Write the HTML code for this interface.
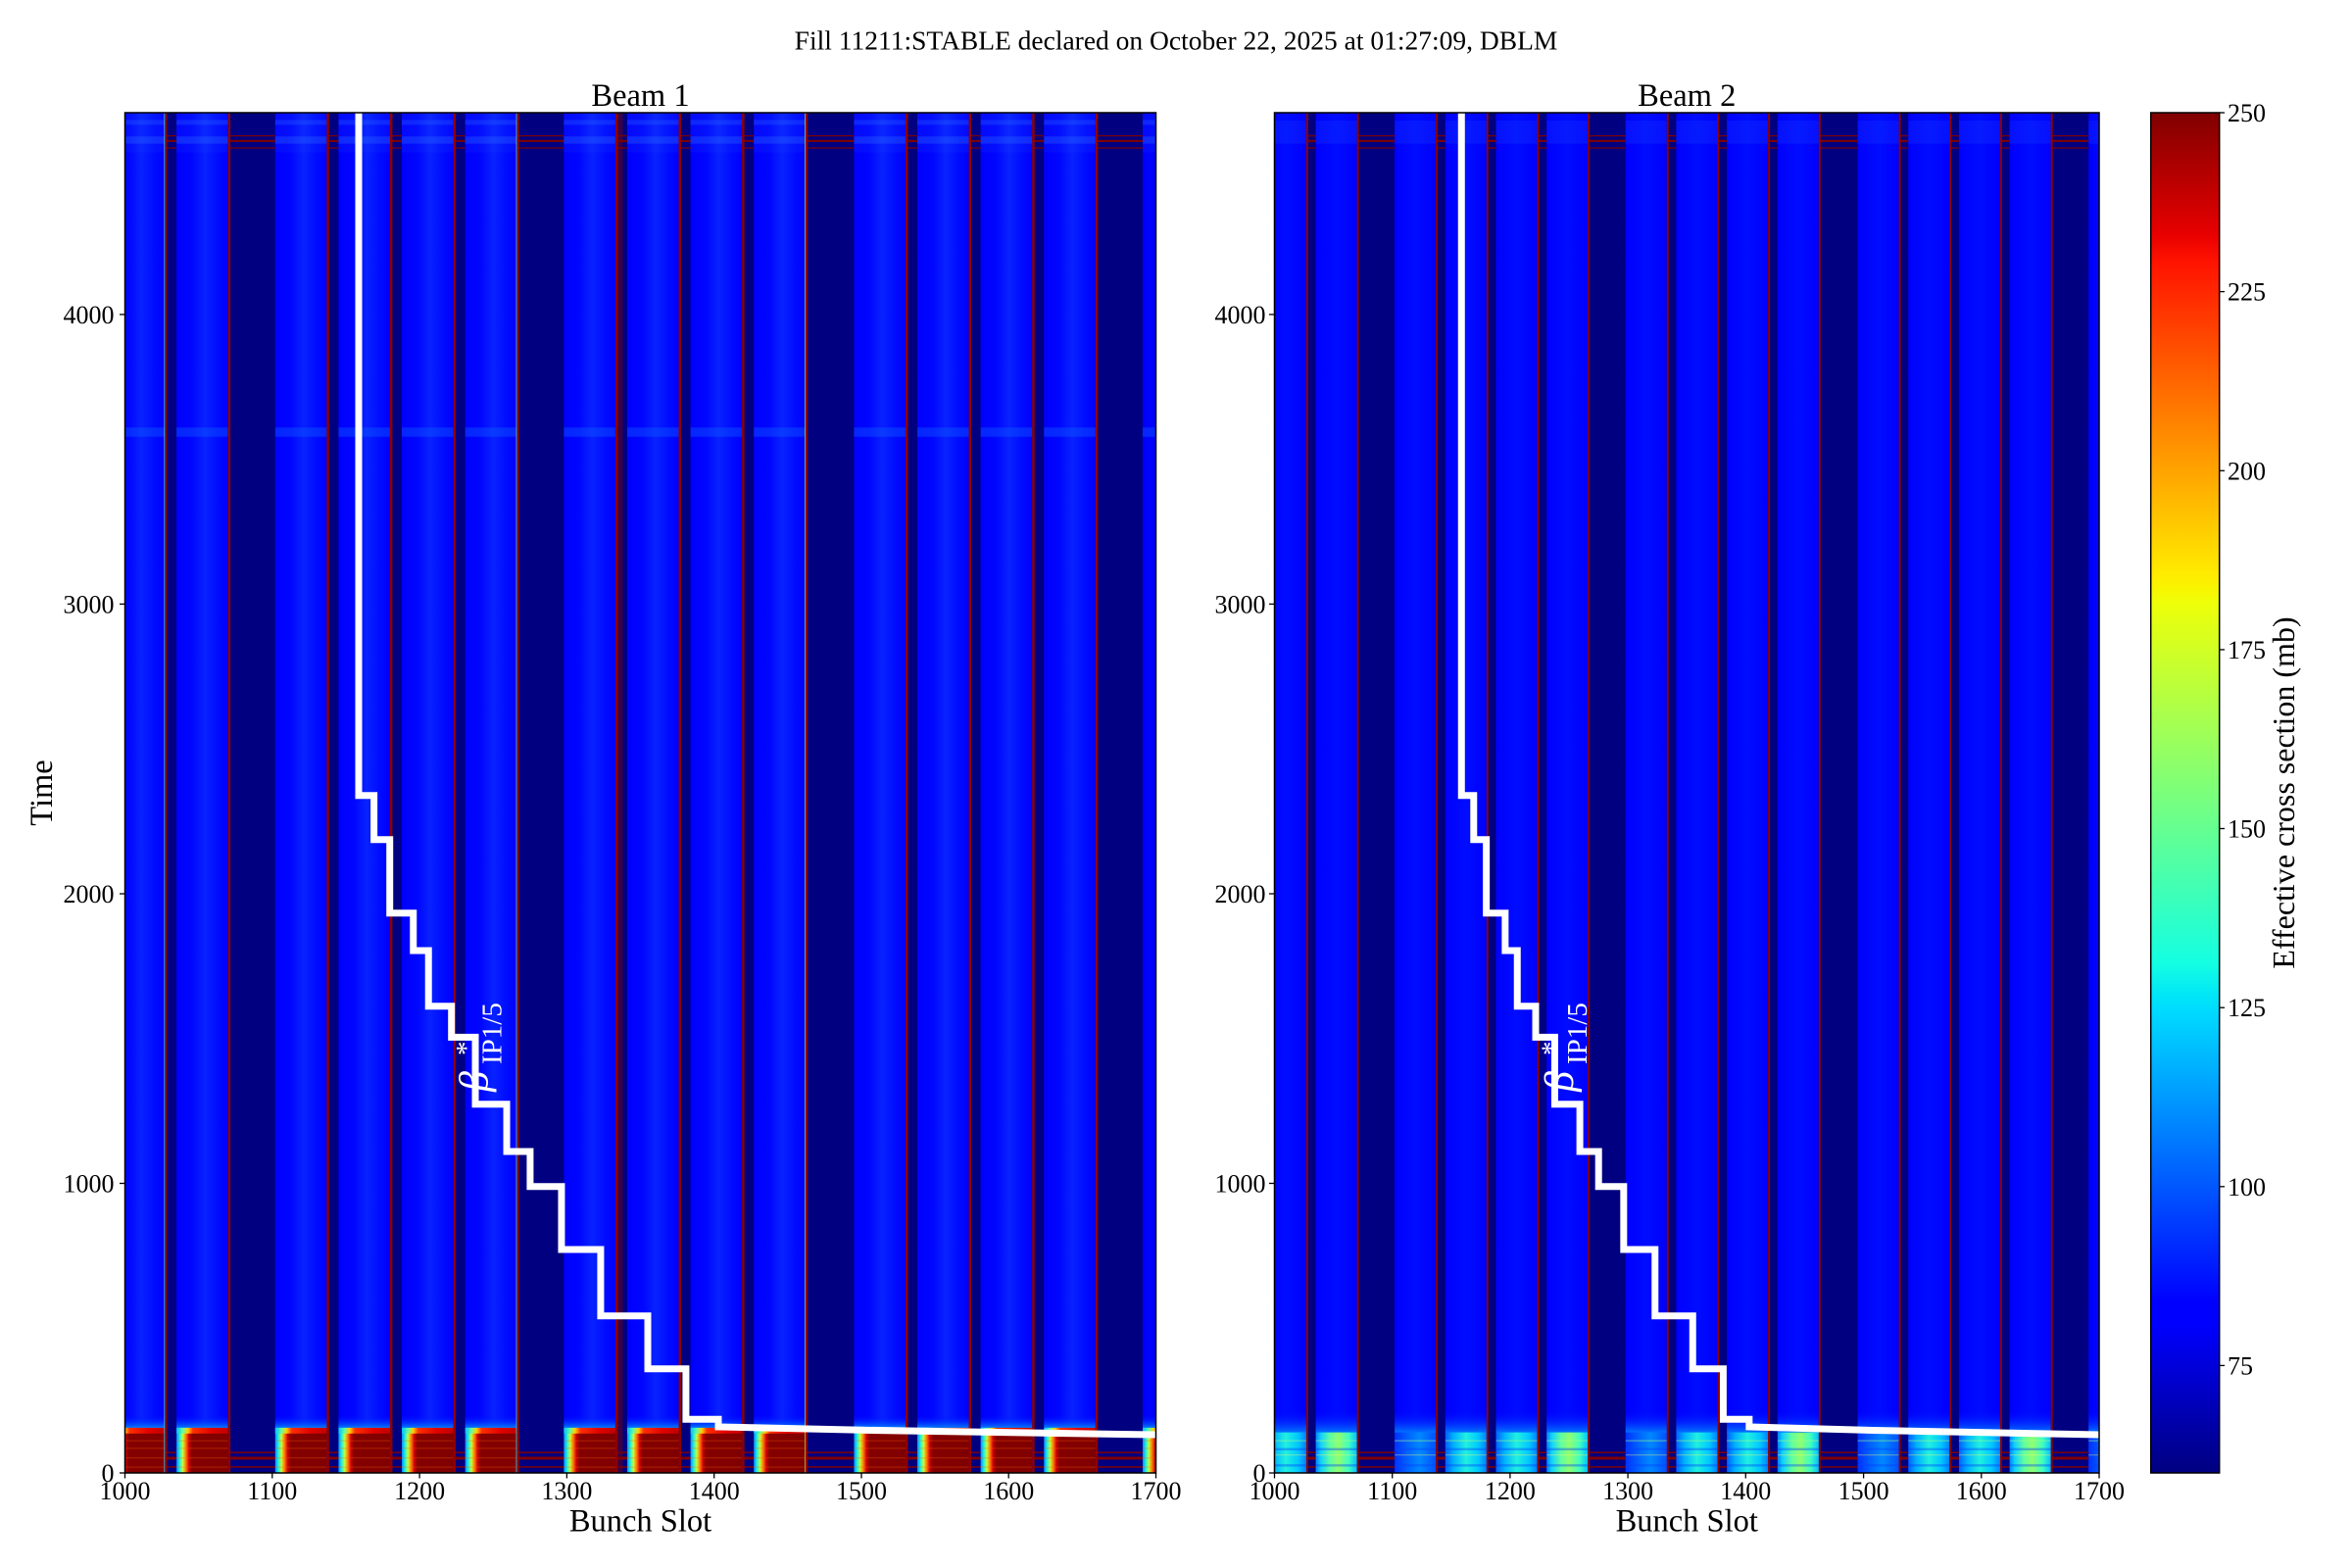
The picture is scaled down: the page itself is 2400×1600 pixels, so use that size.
<!DOCTYPE html>
<html><head><meta charset="utf-8">
<style>
html,body{margin:0;padding:0;background:#fff}
svg{display:block}
text{font-family:"Liberation Serif","DejaVu Serif",serif;fill:#000}
</style></head>
<body>
<svg xmlns="http://www.w3.org/2000/svg" xmlns:xlink="http://www.w3.org/1999/xlink" width="2400" height="1600" viewBox="0 0 2400 1600">
<rect width="2400" height="1600" fill="#fff"/>
<defs>
  <linearGradient id="tg1" x1="0" y1="0" x2="1" y2="0">
    <stop offset="0" stop-color="#0000fc"/><stop offset="0.3" stop-color="#0006ff"/><stop offset="0.55" stop-color="#0822ff"/><stop offset="0.8" stop-color="#000cff"/><stop offset="1" stop-color="#0000fc"/>
  </linearGradient>
  <linearGradient id="tg2" x1="0" y1="0" x2="1" y2="0">
    <stop offset="0" stop-color="#0000fc"/><stop offset="0.5" stop-color="#000cff"/><stop offset="1" stop-color="#0000fc"/>
  </linearGradient>
  <linearGradient id="haze1" x1="0" y1="0" x2="0" y2="1">
    <stop offset="0" stop-color="#0008ff" stop-opacity="0"/><stop offset="1" stop-color="#0090ff"/>
  </linearGradient>
  <linearGradient id="haze2" x1="0" y1="0" x2="0" y2="1">
    <stop offset="0" stop-color="#0008ff" stop-opacity="0"/><stop offset="1" stop-color="#0078ff"/>
  </linearGradient>
  <linearGradient id="blob1" x1="0" y1="0" x2="1" y2="0">
    <stop offset="0" stop-color="#0090ff"/><stop offset="0.06" stop-color="#20f0e0"/><stop offset="0.12" stop-color="#c0ff40"/><stop offset="0.18" stop-color="#ff8000"/><stop offset="0.24" stop-color="#d00000"/><stop offset="0.3" stop-color="#840000"/><stop offset="1" stop-color="#800000"/>
  </linearGradient>
  <linearGradient id="btop1" x1="0" y1="0" x2="1" y2="0">
    <stop offset="0" stop-color="#00c0ff"/><stop offset="0.12" stop-color="#60ffa0"/><stop offset="0.22" stop-color="#ffd000"/><stop offset="0.32" stop-color="#ff3000"/><stop offset="0.7" stop-color="#e00000"/><stop offset="1" stop-color="#c00000"/>
  </linearGradient>
  <linearGradient id="bb" x1="0" y1="0" x2="1" y2="0">
    <stop offset="0" stop-color="#0080ff"/><stop offset="0.12" stop-color="#10d0ff"/><stop offset="0.35" stop-color="#60ffa0"/><stop offset="0.55" stop-color="#90ff70"/><stop offset="0.8" stop-color="#40ffc0"/><stop offset="1" stop-color="#00c0ff"/>
  </linearGradient>
  <linearGradient id="bm" x1="0" y1="0" x2="1" y2="0">
    <stop offset="0" stop-color="#0060ff"/><stop offset="0.2" stop-color="#00b0ff"/><stop offset="0.5" stop-color="#20f0e0"/><stop offset="0.8" stop-color="#00c8ff"/><stop offset="1" stop-color="#0080ff"/>
  </linearGradient>
  <linearGradient id="bd" x1="0" y1="0" x2="1" y2="0">
    <stop offset="0" stop-color="#0030ff"/><stop offset="0.3" stop-color="#0060ff"/><stop offset="0.6" stop-color="#0088ff"/><stop offset="1" stop-color="#0050ff"/>
  </linearGradient>
  <linearGradient id="jet" x1="0" y1="1" x2="0" y2="0">
    <stop offset="0" stop-color="#000080"/><stop offset="0.11" stop-color="#0000ff"/><stop offset="0.125" stop-color="#0000ff"/><stop offset="0.34" stop-color="#00dbff"/><stop offset="0.35" stop-color="#00e5f8"/><stop offset="0.375" stop-color="#14ffe2"/><stop offset="0.5" stop-color="#7bff7b"/><stop offset="0.64" stop-color="#eeff08"/><stop offset="0.65" stop-color="#f8f500"/><stop offset="0.66" stop-color="#ffec00"/><stop offset="0.75" stop-color="#ff9700"/><stop offset="0.89" stop-color="#ff1300"/><stop offset="0.91" stop-color="#e80000"/><stop offset="1" stop-color="#800000"/>
  </linearGradient>

  <clipPath id="cpTr" clipPathUnits="userSpaceOnUse">
    <rect x="992" y="-4697" width="35" height="4697"/><rect x="1035" y="-4697" width="35" height="4697"/><rect x="1102" y="-4697" width="35" height="4697"/><rect x="1145" y="-4697" width="35" height="4697"/><rect x="1188" y="-4697" width="35" height="4697"/><rect x="1231" y="-4697" width="35" height="4697"/><rect x="1298" y="-4697" width="35" height="4697"/><rect x="1341" y="-4697" width="35" height="4697"/><rect x="1384" y="-4697" width="35" height="4697"/><rect x="1427" y="-4697" width="35" height="4697"/><rect x="1495" y="-4697" width="35" height="4697"/><rect x="1538" y="-4697" width="35" height="4697"/><rect x="1581" y="-4697" width="35" height="4697"/><rect x="1624" y="-4697" width="35" height="4697"/><rect x="1691" y="-4697" width="35" height="4697"/>
  </clipPath>

  <g id="tr">
    <rect x="992" y="-4697" width="35" height="4697"/><rect x="1035" y="-4697" width="35" height="4697"/><rect x="1102" y="-4697" width="35" height="4697"/><rect x="1145" y="-4697" width="35" height="4697"/><rect x="1188" y="-4697" width="35" height="4697"/><rect x="1231" y="-4697" width="35" height="4697"/><rect x="1298" y="-4697" width="35" height="4697"/><rect x="1341" y="-4697" width="35" height="4697"/><rect x="1384" y="-4697" width="35" height="4697"/><rect x="1427" y="-4697" width="35" height="4697"/><rect x="1495" y="-4697" width="35" height="4697"/><rect x="1538" y="-4697" width="35" height="4697"/><rect x="1581" y="-4697" width="35" height="4697"/><rect x="1624" y="-4697" width="35" height="4697"/><rect x="1691" y="-4697" width="35" height="4697"/>
  </g>
  <g id="rl">
    <rect x="1027" y="-4697" width="1.6" height="4697"/><rect x="1070" y="-4697" width="1.6" height="4697"/><rect x="1137" y="-4697" width="1.6" height="4697"/><rect x="1180" y="-4697" width="1.6" height="4697"/><rect x="1223" y="-4697" width="1.6" height="4697"/><rect x="1266" y="-4697" width="1.6" height="4697"/><rect x="1333" y="-4697" width="1.6" height="4697"/><rect x="1376" y="-4697" width="1.6" height="4697"/><rect x="1419" y="-4697" width="1.6" height="4697"/><rect x="1462" y="-4697" width="1.6" height="4697"/><rect x="1530" y="-4697" width="1.6" height="4697"/><rect x="1573" y="-4697" width="1.6" height="4697"/><rect x="1616" y="-4697" width="1.6" height="4697"/><rect x="1659" y="-4697" width="1.6" height="4697"/>
  </g>
  <g id="blob">
    <rect x="992" y="-152" width="35" height="152"/><rect x="1035" y="-152" width="35" height="152"/><rect x="1102" y="-152" width="35" height="152"/><rect x="1145" y="-152" width="35" height="152"/><rect x="1188" y="-152" width="35" height="152"/><rect x="1231" y="-152" width="35" height="152"/><rect x="1298" y="-152" width="35" height="152"/><rect x="1341" y="-152" width="35" height="152"/><rect x="1384" y="-152" width="35" height="152"/><rect x="1427" y="-152" width="35" height="152"/><rect x="1495" y="-152" width="35" height="152"/><rect x="1538" y="-152" width="35" height="152"/><rect x="1581" y="-152" width="35" height="152"/><rect x="1624" y="-152" width="35" height="152"/><rect x="1691" y="-152" width="35" height="152"/>
  </g>
  <g id="btop">
    <rect x="992" y="-156" width="35" height="20"/><rect x="1035" y="-156" width="35" height="20"/><rect x="1102" y="-156" width="35" height="20"/><rect x="1145" y="-156" width="35" height="20"/><rect x="1188" y="-156" width="35" height="20"/><rect x="1231" y="-156" width="35" height="20"/><rect x="1298" y="-156" width="35" height="20"/><rect x="1341" y="-156" width="35" height="20"/><rect x="1384" y="-156" width="35" height="20"/><rect x="1427" y="-156" width="35" height="20"/><rect x="1495" y="-156" width="35" height="20"/><rect x="1538" y="-156" width="35" height="20"/><rect x="1581" y="-156" width="35" height="20"/><rect x="1624" y="-156" width="35" height="20"/><rect x="1691" y="-156" width="35" height="20"/>
  </g>

  <polyline id="stair" fill="none" stroke="#ffffff" stroke-width="7" vector-effect="non-scaling-stroke" stroke-linejoin="miter"
    points="1158.7,-4800 1158.7,-2339.2 1169.1,-2339.2 1169.1,-2186.9 1179.8,-2186.9 1179.8,-1933.1 1195.8,-1933.1 1195.8,-1803.5 1206.1,-1803.5 1206.1,-1611.7 1221.7,-1611.7 1221.7,-1504.8 1237.9,-1504.8 1237.9,-1273.3 1259.2,-1273.3 1259.2,-1109.9 1275.1,-1109.9 1275.1,-989.1 1296.4,-989.1 1296.4,-771.5 1323.0,-771.5 1323.0,-542.4 1355.0,-542.4 1355.0,-359.7 1380.9,-359.7 1380.9,-185.1 1402.9,-185.1 1402.9,-159 1500.7,-147.9 1710,-131"/>

  <g id="gapdec" fill="#800000">
    <rect x="1000" y="-73" width="700" height="5"/>
    <rect x="1000" y="-56" width="700" height="10"/>
    <rect x="1000" y="-23" width="700" height="5"/>
    <rect x="1000" y="-4619" width="700" height="4"/>
    <rect x="1000" y="-4603" width="700" height="7"/>
    <rect x="1000" y="-4577" width="700" height="4"/>
  </g>
</defs>

<!-- Title -->
<text x="1200" y="50.5" font-size="27.5" text-anchor="middle">Fill 11211:STABLE declared on October 22, 2025 at 01:27:09, DBLM</text>

<!-- ===== Beam 1 ===== -->
<svg x="127.5" y="115" width="1052" height="1388" viewBox="1000 -4697 700 4697" preserveAspectRatio="none">
  <rect x="990" y="-4800" width="800" height="4900" fill="#000080"/>
  <use xlink:href="#gapdec"/>
  <use xlink:href="#tr" fill="url(#tg1)"/>
  <g clip-path="url(#cpTr)">
    <rect x="1000" y="-4697" width="700" height="137" fill="#2050ff" opacity="0.12"/>
    <rect x="1000" y="-4672" width="700" height="17" fill="#3070ff" opacity="0.28"/>
    <rect x="1000" y="-4615" width="700" height="25" fill="#3070ff" opacity="0.32"/>
    <rect x="1000" y="-3610" width="700" height="32" fill="#1060ff" opacity="0.4"/>
    <rect x="1000" y="-200" width="700" height="48" fill="url(#haze1)"/>
  </g>
  <use xlink:href="#blob" fill="url(#blob1)"/>
  <use xlink:href="#btop" fill="url(#btop1)"/>
  <g clip-path="url(#cpTr)" fill="#ff6000" opacity="0.3">
    <rect x="1000" y="-113" width="700" height="4"/>
    <rect x="1000" y="-87" width="700" height="4"/>
    <rect x="1000" y="-54" width="700" height="4"/>
    <rect x="1000" y="-22" width="700" height="4"/>
  </g>
  <use xlink:href="#rl" fill="#900000"/>
  <rect x="1334" y="-4697" width="4" height="4697" fill="#800000" opacity="0.45"/>
  <rect x="1026.5" y="-4697" width="0.6" height="4697" fill="#30e0ff" opacity="0.8"/>
  <rect x="1265.5" y="-4697" width="0.6" height="4697" fill="#30e0ff" opacity="0.8"/>
  <rect x="1461.5" y="-4697" width="0.6" height="4697" fill="#c0ff40" opacity="0.7"/>
  <use xlink:href="#stair"/>
</svg>
<rect x="127.5" y="115" width="1052" height="1388" fill="none" stroke="#000" stroke-width="1.5"/>

<!-- ===== Beam 2 ===== -->
<svg x="1300.5" y="115" width="841.5" height="1388" viewBox="1000 -4697 700 4697" preserveAspectRatio="none">
  <rect x="990" y="-4800" width="800" height="4900" fill="#000080"/>
  <use xlink:href="#gapdec"/>
  <use xlink:href="#tr" fill="url(#tg2)"/>
  <g clip-path="url(#cpTr)">
    <rect x="1000" y="-4670" width="700" height="80" fill="#2060ff" opacity="0.18"/>
    <rect x="1000" y="-215" width="700" height="77" fill="url(#haze2)"/>
  </g>
  <g fill="url(#bb)">
    <rect x="1035" y="-140" width="35" height="140"/><rect x="1231" y="-140" width="35" height="140"/><rect x="1427" y="-140" width="35" height="140"/><rect x="1624" y="-140" width="35" height="140"/>
  </g>
  <g fill="url(#bm)">
    <rect x="992" y="-140" width="35" height="140"/><rect x="1145" y="-140" width="35" height="140"/><rect x="1188" y="-140" width="35" height="140"/><rect x="1341" y="-140" width="35" height="140"/><rect x="1384" y="-140" width="35" height="140"/><rect x="1538" y="-140" width="35" height="140"/><rect x="1581" y="-140" width="35" height="140"/>
  </g>
  <g fill="url(#bd)">
    <rect x="1102" y="-140" width="35" height="140"/><rect x="1298" y="-140" width="35" height="140"/><rect x="1495" y="-140" width="35" height="140"/><rect x="1691" y="-140" width="35" height="140"/>
  </g>
  <g clip-path="url(#cpTr)">
    <rect x="1000" y="-114" width="700" height="6" fill="#a0ff80" opacity="0.35"/>
    <rect x="1000" y="-86" width="700" height="8" fill="#0040ff" opacity="0.4"/>
    <rect x="1000" y="-64" width="700" height="4" fill="#ffff60" opacity="0.35"/>
    <rect x="1000" y="-30" width="700" height="8" fill="#0040ff" opacity="0.4"/>
  </g>
  <use xlink:href="#rl" fill="#900000"/>
  <use xlink:href="#stair"/>
</svg>
<rect x="1300.5" y="115" width="841.5" height="1388" fill="none" stroke="#000" stroke-width="1.5"/>

<!-- beta labels -->
<text transform="translate(497.5,1114) rotate(-90)" style="fill:#fff"><tspan x="0" y="0" font-size="42" font-style="italic" style="fill:#fff">β</tspan><tspan x="37" y="-12.5" font-size="29" style="fill:#fff">*</tspan><tspan x="28" y="14" font-size="29" style="fill:#fff">IP1/5</tspan></text>
<text transform="translate(1605,1114) rotate(-90)" style="fill:#fff"><tspan x="0" y="0" font-size="42" font-style="italic" style="fill:#fff">β</tspan><tspan x="37" y="-12.5" font-size="29" style="fill:#fff">*</tspan><tspan x="28" y="14" font-size="29" style="fill:#fff">IP1/5</tspan></text>

<!-- Axes titles -->
<text x="653.5" y="108" font-size="32.5" text-anchor="middle">Beam 1</text>
<text x="1721.25" y="108" font-size="32.5" text-anchor="middle">Beam 2</text>

<!-- Ticks -->
<g stroke="#000" stroke-width="1.3">
  <line x1="122" y1="1503" x2="127.5" y2="1503"/><line x1="122" y1="1207.5" x2="127.5" y2="1207.5"/><line x1="122" y1="912" x2="127.5" y2="912"/><line x1="122" y1="616.4" x2="127.5" y2="616.4"/><line x1="122" y1="320.9" x2="127.5" y2="320.9"/>
  <line x1="1295" y1="1503" x2="1300.5" y2="1503"/><line x1="1295" y1="1207.5" x2="1300.5" y2="1207.5"/><line x1="1295" y1="912" x2="1300.5" y2="912"/><line x1="1295" y1="616.4" x2="1300.5" y2="616.4"/><line x1="1295" y1="320.9" x2="1300.5" y2="320.9"/>
  <line x1="127.5" y1="1503" x2="127.5" y2="1508.5"/><line x1="277.8" y1="1503" x2="277.8" y2="1508.5"/><line x1="428.1" y1="1503" x2="428.1" y2="1508.5"/><line x1="578.4" y1="1503" x2="578.4" y2="1508.5"/><line x1="728.7" y1="1503" x2="728.7" y2="1508.5"/><line x1="879" y1="1503" x2="879" y2="1508.5"/><line x1="1029.2" y1="1503" x2="1029.2" y2="1508.5"/><line x1="1179.5" y1="1503" x2="1179.5" y2="1508.5"/>
  <line x1="1300.5" y1="1503" x2="1300.5" y2="1508.5"/><line x1="1420.7" y1="1503" x2="1420.7" y2="1508.5"/><line x1="1540.9" y1="1503" x2="1540.9" y2="1508.5"/><line x1="1661.1" y1="1503" x2="1661.1" y2="1508.5"/><line x1="1781.3" y1="1503" x2="1781.3" y2="1508.5"/><line x1="1901.6" y1="1503" x2="1901.6" y2="1508.5"/><line x1="2021.8" y1="1503" x2="2021.8" y2="1508.5"/><line x1="2142" y1="1503" x2="2142" y2="1508.5"/>
  <line x1="2264.7" y1="1393.4" x2="2270" y2="1393.4"/><line x1="2264.7" y1="1210.8" x2="2270" y2="1210.8"/><line x1="2264.7" y1="1028.2" x2="2270" y2="1028.2"/><line x1="2264.7" y1="845.5" x2="2270" y2="845.5"/><line x1="2264.7" y1="662.9" x2="2270" y2="662.9"/><line x1="2264.7" y1="480.3" x2="2270" y2="480.3"/><line x1="2264.7" y1="297.6" x2="2270" y2="297.6"/><line x1="2264.7" y1="115" x2="2270" y2="115"/>
</g>

<!-- Y tick labels -->
<g font-size="26" text-anchor="end">
  <text x="116.5" y="1512">0</text><text x="116.5" y="1216.5">1000</text><text x="116.5" y="921">2000</text><text x="116.5" y="625.4">3000</text><text x="116.5" y="329.9">4000</text>
  <text x="1291.5" y="1512">0</text><text x="1291.5" y="1216.5">1000</text><text x="1291.5" y="921">2000</text><text x="1291.5" y="625.4">3000</text><text x="1291.5" y="329.9">4000</text>
</g>
<!-- X tick labels -->
<g font-size="26" text-anchor="middle">
  <text x="127.5" y="1530">1000</text><text x="277.8" y="1530">1100</text><text x="428.1" y="1530">1200</text><text x="578.4" y="1530">1300</text><text x="728.7" y="1530">1400</text><text x="879" y="1530">1500</text><text x="1029.2" y="1530">1600</text><text x="1179.5" y="1530">1700</text>
  <text x="1300.5" y="1530">1000</text><text x="1420.7" y="1530">1100</text><text x="1540.9" y="1530">1200</text><text x="1661.1" y="1530">1300</text><text x="1781.3" y="1530">1400</text><text x="1901.6" y="1530">1500</text><text x="2021.8" y="1530">1600</text><text x="2142" y="1530">1700</text>
</g>

<!-- Axis labels -->
<text x="653.5" y="1562.7" font-size="32.5" text-anchor="middle">Bunch Slot</text>
<text x="1721.25" y="1562.7" font-size="32.5" text-anchor="middle">Bunch Slot</text>
<text transform="translate(53,809) rotate(-90)" font-size="32.5" text-anchor="middle">Time</text>

<!-- Colorbar -->
<rect x="2194.7" y="115" width="70" height="1388" fill="url(#jet)" stroke="#000" stroke-width="1.5"/>
<g font-size="26">
  <text x="2273" y="1402.4">75</text><text x="2273" y="1219.8">100</text><text x="2273" y="1037.2">125</text><text x="2273" y="854.5">150</text><text x="2273" y="671.9">175</text><text x="2273" y="489.3">200</text><text x="2273" y="306.6">225</text><text x="2273" y="124">250</text>
</g>
<text transform="translate(2341,809) rotate(-90)" font-size="32" text-anchor="middle">Effective cross section (mb)</text>
</svg>
</body></html>
